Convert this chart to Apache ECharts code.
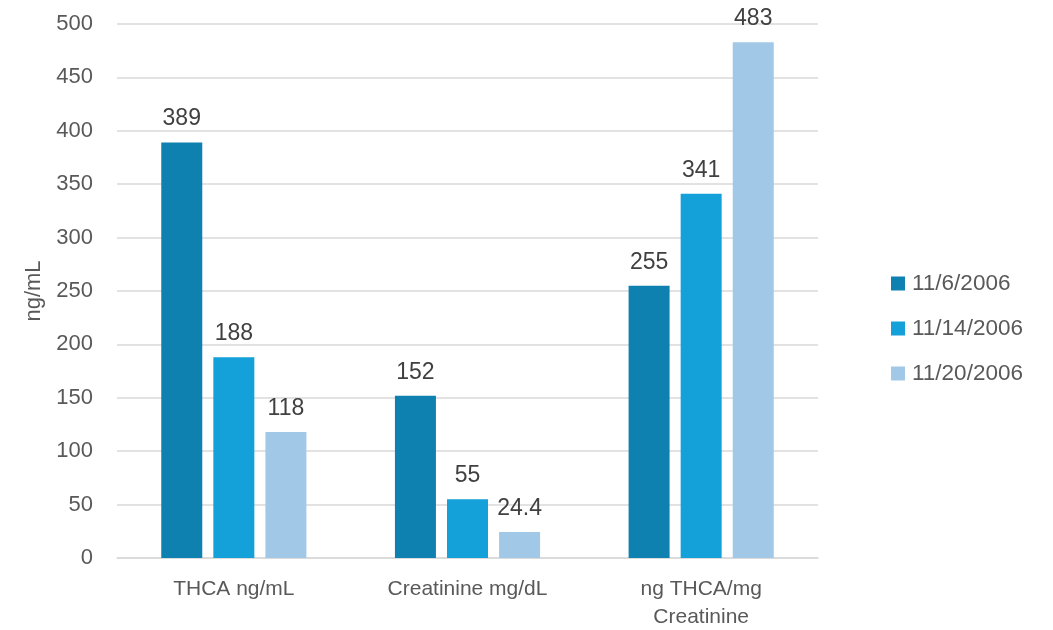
<!DOCTYPE html>
<html>
<head>
<meta charset="utf-8">
<script src="https://cdn.jsdelivr.net/npm/echarts@6/dist/echarts.min.js"></script>
<style>
  html, body { margin: 0; padding: 0; background: #ffffff; }
  #chart { width: 1053px; height: 630px; }
</style>
</head>
<body>
<div id="chart"></div>
<script>
// Measurement categories and the three sampling dates
const categories = ['THCA ng/mL', 'Creatinine mg/dL', 'ng THCA/mg\nCreatinine'];
const dates = ['11/6/2006', '11/14/2006', '11/20/2006'];
const values_2006_11_06 = [389, 152, 255];
const values_2006_11_14 = [188, 55, 341];
const values_2006_11_20 = [118, 24.4, 483];
const yTicks = { min: 0, max: 500, interval: 50 };

const colors = ['#0E81B0', '#14A0D9', '#A2C8E8'];
const seriesValues = [values_2006_11_06, values_2006_11_14, values_2006_11_20];
const textColor = '#595959';
const fontFamily = '"Liberation Sans", "DejaVu Sans", sans-serif';

const chart = echarts.init(document.getElementById('chart'), null, { renderer: 'canvas' });

chart.setOption({
  animation: false,
  backgroundColor: '#ffffff',
  grid: {
    left: 117, right: 235, top: 24, bottom: 72,
    containLabel: false,
    outerBoundsMode: 'none'
  },
  legend: {
    orient: 'vertical',
    left: 891,
    top: 272,
    padding: 0,
    itemWidth: 14,
    itemHeight: 14,
    itemGap: 22,
    icon: 'rect',
    textStyle: {
      color: textColor, fontSize: 22.5, lineHeight: 22,
      fontFamily: fontFamily, padding: [0, 0, 0, 2]
    },
    data: dates
  },
  xAxis: {
    type: 'category',
    data: categories,
    axisLine: { lineStyle: { color: '#D9D9D9', width: 1.5 } },
    axisTick: { show: false },
    axisLabel: {
      color: textColor,
      fontSize: 21,
      fontFamily: fontFamily,
      margin: 17,
      lineHeight: 28
    }
  },
  yAxis: {
    type: 'value',
    min: yTicks.min,
    max: yTicks.max,
    interval: yTicks.interval,
    name: 'ng/mL',
    nameLocation: 'middle',
    nameGap: 72,
    nameRotate: 90,
    nameTextStyle: { color: textColor, fontSize: 22, fontFamily: fontFamily },
    axisLine: { show: false },
    axisTick: { show: false },
    splitLine: { lineStyle: { color: '#D9D9D9', width: 1.5 } },
    axisLabel: { color: textColor, fontSize: 22, fontFamily: fontFamily, margin: 24 }
  },
  series: dates.map((d, i) => ({
    name: d,
    type: 'bar',
    data: seriesValues[i],
    barWidth: 41,
    barGap: '27%',
    itemStyle: { color: colors[i] },
    label: {
      show: true,
      position: 'top',
      distance: 12,
      color: '#404040',
      fontSize: 23,
      fontFamily: fontFamily
    }
  }))
});
</script>
</body>
</html>
